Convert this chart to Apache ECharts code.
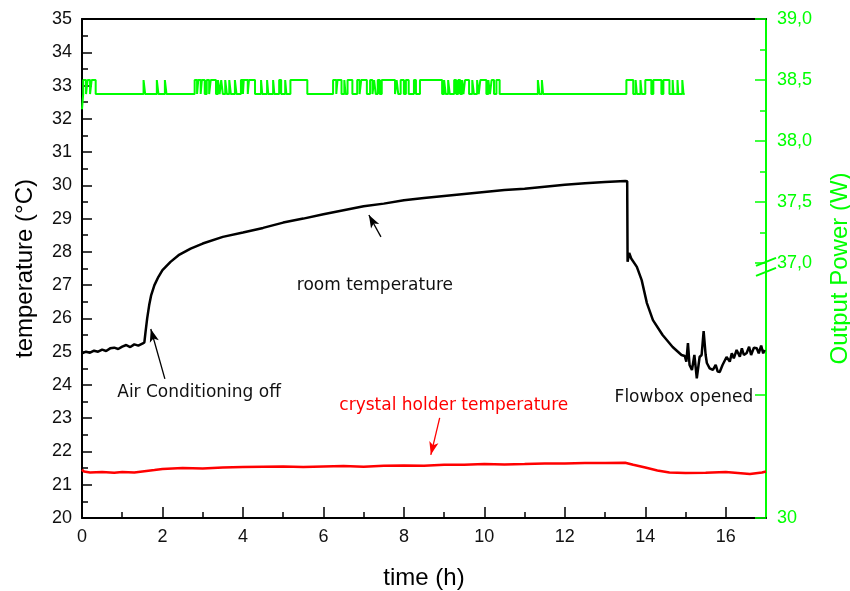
<!DOCTYPE html>
<html><head><meta charset="utf-8">
<script src="https://cdn.jsdelivr.net/npm/echarts@6/dist/echarts.min.js"></script>
<style>html,body{margin:0;padding:0;background:#fff}#c{width:850px;height:591px}</style>
</head><body><div id="c"></div><script>
// ---- data ----
const roomTime = [0,0.1,0.2,0.3,0.4,0.5,0.6,0.7,0.8,0.9,1.0,1.1,1.2,1.3,1.4,1.5,1.55,1.58,1.62,1.67,1.72,1.8,1.9,2.0,2.2,2.4,2.7,3.0,3.5,4.0,4.5,5.0,5.5,6.0,6.5,7.0,7.5,8.0,8.5,9.0,9.5,10.0,10.5,11.0,11.5,12.0,12.5,13.0,13.5,13.55,13.56,13.6,13.65,13.79,13.91,14.04,14.19,14.43,14.68,14.9,14.98,15.02,15.06,15.1,15.16,15.22,15.28,15.35,15.4,15.45,15.5,15.53,15.6,15.68,15.75,15.8,15.85,15.92,16.02,16.1,16.15,16.2,16.27,16.35,16.4,16.45,16.52,16.58,16.63,16.7,16.77,16.82,16.88,16.93,16.97];
const roomTemp = [24.95,25.0,24.97,25.03,25.0,25.06,25.02,25.1,25.12,25.08,25.15,25.2,25.14,25.22,25.18,25.24,25.28,25.6,26.0,26.4,26.7,27.0,27.25,27.45,27.7,27.9,28.1,28.25,28.45,28.58,28.72,28.88,29.0,29.13,29.25,29.37,29.45,29.55,29.62,29.68,29.74,29.8,29.86,29.9,29.96,30.02,30.06,30.1,30.13,30.12,27.7,27.97,27.8,27.55,27.15,26.46,25.95,25.5,25.14,24.9,24.87,24.7,25.26,24.6,24.45,24.9,24.2,24.84,24.9,25.62,24.9,24.66,24.5,24.45,24.6,24.4,24.39,24.6,24.84,24.7,24.95,24.8,25.05,24.85,25.1,24.9,24.96,25.15,24.9,25.12,25.1,24.95,25.18,24.95,25.05];

const holderTime = [0,0.05,0.2,0.5,0.8,1.0,1.3,1.5,1.8,2.0,2.5,3.0,3.5,4.0,4.5,5.0,5.5,6.0,6.5,7.0,7.5,8.0,8.5,9.0,9.5,10.0,10.5,11.0,11.5,12.0,12.5,13.0,13.5,13.7,14.0,14.3,14.6,15.0,15.5,16.0,16.3,16.6,16.9,17.0];
const holderTemp = [21.45,21.4,21.37,21.38,21.36,21.38,21.37,21.4,21.44,21.47,21.5,21.49,21.52,21.53,21.54,21.55,21.53,21.55,21.56,21.54,21.57,21.58,21.57,21.6,21.6,21.62,21.61,21.62,21.64,21.64,21.65,21.65,21.66,21.6,21.52,21.43,21.37,21.35,21.36,21.38,21.35,21.32,21.37,21.4];

const powerHighIntervals = [[0.03,0.1],[0.14,0.2],[0.24,0.34],[1.53,1.57],[1.86,1.9],[2.06,2.1],[2.8,2.86],[2.89,2.95],[2.98,3.05],[3.1,3.16],[3.2,3.33],[3.38,3.42],[3.46,3.5],[3.56,3.6],[3.66,3.7],[3.8,3.84],[3.95,4.0],[4.02,4.12],[4.15,4.3],[4.45,4.48],[4.6,4.63],[4.75,4.78],[4.9,4.95],[5.05,5.08],[5.18,5.6],[6.24,6.32],[6.35,6.45],[6.52,6.55],[6.6,6.72],[6.84,6.9],[6.94,7.08],[7.16,7.22],[7.26,7.3],[7.35,7.4],[7.45,7.78],[7.82,7.86],[7.92,8.0],[8.05,8.12],[8.25,8.3],[8.4,8.95],[9.0,9.04],[9.1,9.14],[9.25,9.3],[9.35,9.4],[9.45,9.48],[9.52,9.62],[9.7,9.74],[9.82,9.86],[9.9,10.05],[10.1,10.14],[10.18,10.24],[10.3,10.38],[11.33,11.37],[11.43,11.46],[13.53,13.7],[13.76,13.79],[13.88,13.91],[14.0,14.15],[14.2,14.4],[14.45,14.6],[14.68,14.7],[14.8,14.82],[14.92,14.95]];
const powerStart = 38.26, powerLow = 38.385, powerHigh = 38.5, powerEndTime = 14.98;

const xLabelValues = [0,2,4,6,8,10,12,14,16];
const xMinorValues = [1,3,5,7,9,11,13,15];
const rightLabelValues = [37.0,37.5,38.0,38.5,39.0];
const rightMinorValues = [37.25,37.75,38.25,38.75];
const rightLowTick = 35.92;       // unlabeled tick below the axis break
const rightBottom = 34.91;         // bottom of the right axis (labelled "30")
const rightBottomLabel = '30';

const annotations = [
  {text:'Air Conditioning off', t:2.91, v:23.76, color:'#111'},
  {text:'room temperature', t:7.28, v:27.0, color:'#111'},
  {text:'crystal holder temperature', t:9.24, v:23.37, color:'#ff0000'},
  {text:'Flowbox opened', t:14.96, v:23.61, color:'#111'}
];
const arrows = [
  {t0:2.06, v0:24.18, t1:1.71, v1:25.68, color:'#000'},
  {t0:7.43, v0:28.45, t1:7.13, v1:29.11, color:'#000'},
  {t0:8.89, v0:23.01, t1:8.67, v1:21.9, color:'#ff0000'}
];

// ---- build series data ----
const roomData = roomTime.map((t,i)=>[t, roomTemp[i]]);
const holderData = holderTime.map((t,i)=>[t, holderTemp[i]]);
const powerData = [[0, powerStart]];
powerHighIntervals.forEach(([a,b])=>{ powerData.push([a,powerLow],[a,powerHigh],[b,powerHigh],[b,powerLow]); });
powerData.push([powerEndTime, powerLow]);

const GREEN = '#00ff00';
const FONT = '"Liberation Sans", Arial, sans-serif';
const tickFont = {fontFamily:FONT, fontSize:18, color:'#111'};
const gridBox = {left:82, right:84, top:19, bottom:73, containLabel:false, outerBoundsMode:'none'};
const chart = echarts.init(document.getElementById('c'), null, {renderer:'canvas'});
chart.setOption({
  animation:false,
  backgroundColor:'#fff',
  grid:[Object.assign({}, gridBox), Object.assign({}, gridBox)],
  xAxis:[
    {type:'value', gridIndex:0, position:'bottom', min:0, max:17,
     name:'time (h)', nameLocation:'middle', nameGap:48,
     nameTextStyle:{fontFamily:FONT, fontSize:24, color:'#000'},
     axisLine:{show:true, onZero:false, lineStyle:{color:'#000', width:2}},
     axisTick:{show:true, inside:true, length:11, customValues:xLabelValues, lineStyle:{color:'#000', width:1.5}},
     axisLabel:{show:true, margin:10, customValues:xLabelValues, ...tickFont},
     splitLine:{show:false}},
    {type:'value', gridIndex:0, position:'top', min:0, max:17,
     axisLine:{show:true, onZero:false, lineStyle:{color:'#000', width:2}},
     axisTick:{show:false}, axisLabel:{show:false}, splitLine:{show:false}},
    {type:'value', gridIndex:1, position:'bottom', min:0, max:17,
     axisLine:{show:false, onZero:false}, axisLabel:{show:false}, splitLine:{show:false},
     axisTick:{show:true, inside:true, length:6, customValues:xMinorValues, lineStyle:{color:'#000', width:1.5}}}
  ],
  yAxis:[
    {type:'value', gridIndex:0, position:'left', min:20, max:35, interval:1,
     name:'temperature (°C)', nameLocation:'middle', nameGap:45, nameRotate:90,
     nameTextStyle:{fontFamily:FONT, fontSize:24, color:'#000'},
     axisLine:{show:true, onZero:false, lineStyle:{color:'#000', width:2}},
     axisTick:{show:true, inside:true, length:10, lineStyle:{color:'#000', width:1.5}},
     minorTick:{show:true, splitNumber:2, length:6, lineStyle:{color:'#000', width:1.5}},
     axisLabel:{show:true, margin:10, ...tickFont},
     splitLine:{show:false}},
    {type:'value', gridIndex:0, position:'right', min:rightBottom, max:39,
     name:'Output Power (W)', nameLocation:'middle', nameGap:62, nameRotate:90,
     nameTextStyle:{fontFamily:FONT, fontSize:24, color:GREEN},
     axisLine:{show:true, onZero:false, lineStyle:{color:GREEN, width:2}},
     axisTick:{show:true, inside:true, length:11, customValues:[rightBottom, rightLowTick].concat(rightLabelValues), lineStyle:{color:GREEN, width:1.5}},
     axisLabel:{show:true, margin:11, customValues:[rightBottom].concat(rightLabelValues),
       formatter:v=> v < 35.5 ? rightBottomLabel : v.toFixed(1).replace('.',','),
       ...tickFont, color:GREEN},
     splitLine:{show:false}},
    {type:'value', gridIndex:1, position:'right', min:rightBottom, max:39,
     axisLine:{show:false, onZero:false}, axisLabel:{show:false}, splitLine:{show:false},
     axisTick:{show:true, inside:true, length:6, customValues:rightMinorValues, lineStyle:{color:GREEN, width:1.5}}}
  ],
  series:[
    {type:'line', name:'power', xAxisIndex:0, yAxisIndex:1, data:powerData, showSymbol:false, symbol:'none',
     lineStyle:{color:GREEN, width:2}, z:2},
    {type:'line', name:'holder', xAxisIndex:0, yAxisIndex:0, data:holderData, showSymbol:false, symbol:'none',
     lineStyle:{color:'#ff0000', width:2.5}, z:3},
    {type:'line', name:'room', xAxisIndex:0, yAxisIndex:0, data:roomData, showSymbol:false, symbol:'none',
     lineStyle:{color:'#000', width:2.5}, z:4,
     markLine:{silent:true, animation:false, symbol:['none','arrow'], symbolSize:[7,13],
       label:{show:false},
       data: arrows.map(a=>[
         {coord:[a.t0,a.v0], lineStyle:{color:a.color, width:1.3, type:'solid'}, itemStyle:{color:a.color}},
         {coord:[a.t1,a.v1], lineStyle:{color:a.color, width:1.3, type:'solid'}, itemStyle:{color:a.color}}
       ])}},
    {type:'line', name:'aux', xAxisIndex:2, yAxisIndex:2, data:[], showSymbol:false}
  ]
});

// annotations and axis-break marks placed from data coordinates
const g = annotations.map(a=>{
  const p = chart.convertToPixel({xAxisIndex:0, yAxisIndex:0}, [a.t, a.v]);
  return {type:'text', x:p[0], y:p[1], z:10,
    style:{text:a.text, fill:a.color, font:'17px "DejaVu Sans", Verdana, sans-serif', textAlign:'center', textVerticalAlign:'middle'}};
});
const bx = chart.convertToPixel({xAxisIndex:0}, 17);
const by = chart.convertToPixel({yAxisIndex:1}, 36.96);
g.push({type:'line', z:10, shape:{x1:bx-10, y1:by-2, x2:bx+10, y2:by-10}, style:{stroke:GREEN, lineWidth:2}});
g.push({type:'line', z:10, shape:{x1:bx-10, y1:by+8, x2:bx+10, y2:by}, style:{stroke:GREEN, lineWidth:2}});
chart.setOption({graphic:g});
</script></body></html>
